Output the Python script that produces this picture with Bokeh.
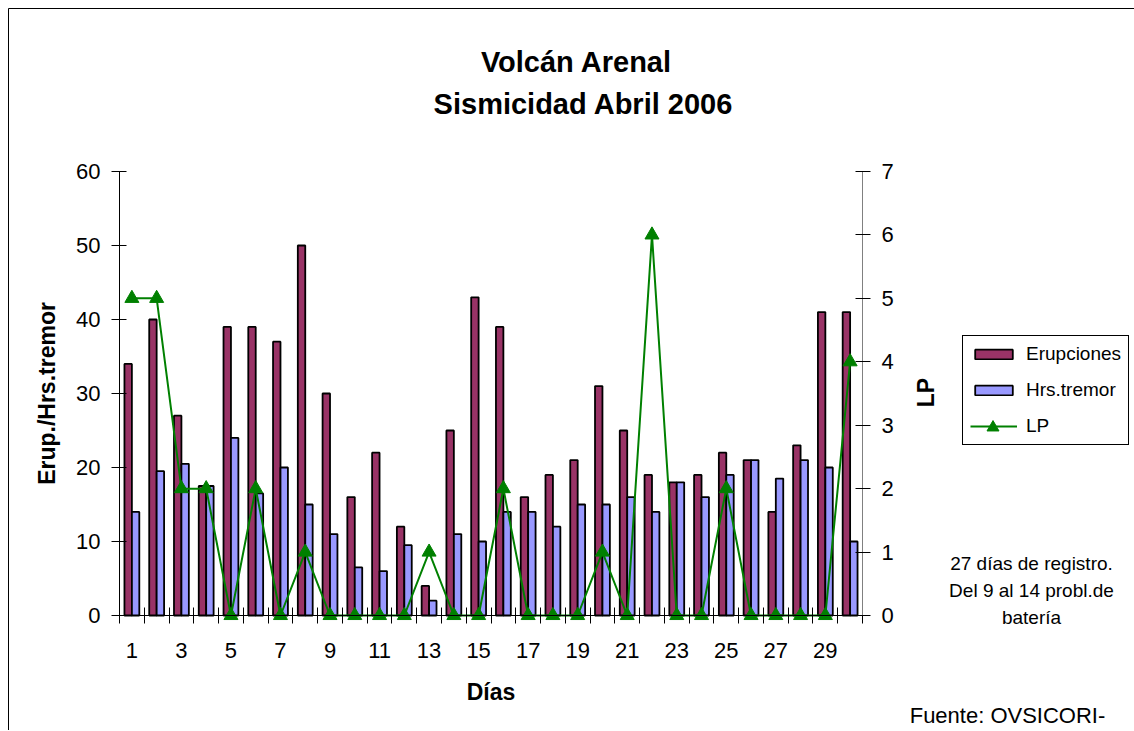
import math
from bokeh.plotting import figure
from bokeh.models import (ColumnDataSource, Range1d, LinearAxis, FixedTicker, Label,
                          Legend, LegendItem, BoxAnnotation)
from bokeh.transform import dodge
from bokeh.embed import file_html
from bokeh.resources import INLINE

# ---- data ----
days = list(range(1, 31))
erupciones = [34, 40, 27, 17.5, 39, 39, 37, 50, 30, 16, 22, 12, 4, 25, 43,
              39, 16, 19, 21, 31, 25, 19, 18, 19, 22, 21, 14, 23, 41, 41]
hrs_tremor = [14, 19.5, 20.5, 17.5, 24, 16.5, 20, 15, 11, 6.5, 6, 9.5, 2, 11, 10,
              14, 14, 12, 15, 15, 16, 14, 18, 16, 19, 21, 18.5, 21, 20, 10]
lp = [5, 5, 2, 2, 0, 2, 0, 1, 0, 0, 0, 0, 1, 0, 0,
      2, 0, 0, 0, 1, 0, 6, 0, 0, 2, 0, 0, 0, 0, 4]
x_tick_labels = [1, 3, 5, 7, 9, 11, 13, 15, 17, 19, 21, 23, 25, 27, 29]
left_ticks = [0, 10, 20, 30, 40, 50, 60]
right_ticks = [0, 1, 2, 3, 4, 5, 6, 7]

title_lines = ["Volcán Arenal", "Sismicidad Abril 2006"]
note_lines = ["27 días de registro.", "Del 9 al 14 probl.de", "batería"]
source_text = "Fuente: OVSICORI-"

FONT = "Liberation Sans"
ERUP_C = "#993366"
HRS_C = "#9999FF"
LP_C = "#008000"

# ---- layout geometry (pixels) ----
W, H = 1134, 730
X0 = 119.0          # pixel of left axis
CW = 743.0 / 30     # pixels per day
Y0 = 615.0          # pixel of zero line
PY = 444.0 / 60     # pixels per unit (left axis)
PL = 444.0 / 7      # pixels per unit (right axis)

def sx(px):  # pixel x -> screen units from frame left
    return px

def sy(py):  # pixel y (from top) -> screen units from frame bottom
    return H - py

src = ColumnDataSource(dict(day=days, erup=erupciones, hrs=hrs_tremor, lp=lp))

x0, x1 = 0.5, 30.5
p = figure(width=W, height=H,
           x_range=Range1d(x0 - X0 / CW, x0 + (W - X0) / CW),
           y_range=Range1d(-(H - Y0) / PY, Y0 / PY),
           output_backend="svg", toolbar_location=None,
           min_border=0, min_border_left=0, min_border_right=0,
           min_border_top=0, min_border_bottom=0,
           outline_line_color=None, background_fill_color="white",
           border_fill_color="white")
p.grid.visible = False
p.extra_y_ranges = {"lp": Range1d(-(H - Y0) / PL, Y0 / PL)}

# chart-area border (left and top edges visible)
p.add_layout(BoxAnnotation(left=x0 - (X0 - 8) / CW, right=x0 + (W + 20 - X0) / CW,
                           top=(Y0 - 8) / PY, bottom=-(H + 20 - Y0) / PY,
                           fill_alpha=0, line_color="black", line_alpha=1, line_width=1,
                           level="underlay"))

r1 = p.vbar(x=dodge("day", -0.15, range=p.x_range), top="erup", width=0.3, source=src,
            fill_color=ERUP_C, line_color="black", line_width=1.8)
r2 = p.vbar(x=dodge("day", 0.15, range=p.x_range), top="hrs", width=0.3, source=src,
            fill_color=HRS_C, line_color="black", line_width=1.8)
r3 = p.line("day", "lp", source=src, y_range_name="lp", line_color=LP_C, line_width=2)
r4 = p.scatter("day", "lp", source=src, y_range_name="lp", marker="triangle", size=14,
               fill_color=LP_C, line_color=LP_C)

# x axis
xa = p.xaxis[0]
xa.ticker = FixedTicker(ticks=x_tick_labels, minor_ticks=[d - 0.5 for d in days] + [days[-1] + 0.5])
xa.fixed_location = 0
xa.bounds = (x0, x1)
xa.major_tick_in = 0
xa.major_tick_out = 0
xa.minor_tick_in = 8
xa.minor_tick_out = 8
xa.minor_tick_line_color = "black"
xa.axis_line_color = "black"
xa.major_label_standoff = 19
xa.major_label_text_font = FONT
xa.major_label_text_font_size = "22px"
xa.major_label_text_color = "black"
xa.axis_label = "Días"
xa.axis_label_text_font = FONT
xa.axis_label_text_font_size = "23px"
xa.axis_label_text_font_style = "bold"
xa.axis_label_text_color = "black"
xa.axis_label_standoff = 18

# left y axis
ya = p.yaxis[0]
ya.ticker = FixedTicker(ticks=left_ticks)
ya.fixed_location = x0
ya.bounds = (0, 60)
ya.major_tick_in = 7
ya.major_tick_out = 8
ya.minor_tick_line_color = None
ya.axis_line_color = "black"
ya.major_tick_line_color = "black"
ya.major_label_standoff = 11
ya.major_label_text_font = FONT
ya.major_label_text_font_size = "22px"
ya.major_label_text_color = "black"
ya.axis_label = "Erup./Hrs.tremor"
ya.axis_label_text_font = FONT
ya.axis_label_text_font_size = "23px"
ya.axis_label_text_font_style = "bold"
ya.axis_label_text_color = "black"
ya.axis_label_standoff = 13

# right y axis
ra = LinearAxis(y_range_name="lp", ticker=FixedTicker(ticks=right_ticks), bounds=(0, 7),
                fixed_location=x1,
                major_tick_in=7, major_tick_out=8, minor_tick_line_color=None,
                axis_line_color="#808080", major_tick_line_color="black",
                major_label_standoff=11, major_label_text_font=FONT,
                major_label_text_font_size="22px", major_label_text_color="black")
p.add_layout(ra, "right")

# texts
def add_text(x, y, text, size, bold=False, angle=0.0, baseline="alphabetic"):
    p.add_layout(Label(x=sx(x), y=sy(y), x_units="screen", y_units="screen", text=text,
                       angle=angle, text_font=FONT, text_font_size=size,
                       text_font_style="bold" if bold else "normal", text_color="black",
                       text_align="center", text_baseline=baseline))

add_text(576, 61, title_lines[0], "29px", bold=True)
add_text(583, 103, title_lines[1], "29px", bold=True)
add_text(925, 392, "LP", "23px", bold=True, angle=math.pi / 2, baseline="middle")
for i, t in enumerate(note_lines):
    add_text(1031, 563 + 27 * i, t, "19px")
add_text(1007, 715, source_text, "22px")

legend = Legend(items=[LegendItem(label="Erupciones", renderers=[r1]),
                       LegendItem(label="Hrs.tremor", renderers=[r2]),
                       LegendItem(label="LP", renderers=[r3])],
                location=(sx(962), sy(445)), orientation="vertical",
                border_line_color="black", border_line_width=1, border_line_alpha=1,
                background_fill_color="white", background_fill_alpha=1,
                label_text_font=FONT, label_text_font_size="19px", label_text_color="black",
                glyph_width=47, glyph_height=12, label_height=22, label_standoff=9,
                padding=7, spacing=14, margin=0)
p.add_layout(legend)
legend2 = Legend(items=[LegendItem(label=" ", renderers=[r4])],
                 location=(sx(969), sy(442)), orientation="vertical",
                 border_line_color=None, background_fill_alpha=0,
                 label_text_font_size="1px",
                 glyph_width=47, glyph_height=30, label_height=30, label_standoff=0,
                 padding=0, spacing=0, margin=0)
p.add_layout(legend2)

open("out.html", "w").write(file_html(p, INLINE))
